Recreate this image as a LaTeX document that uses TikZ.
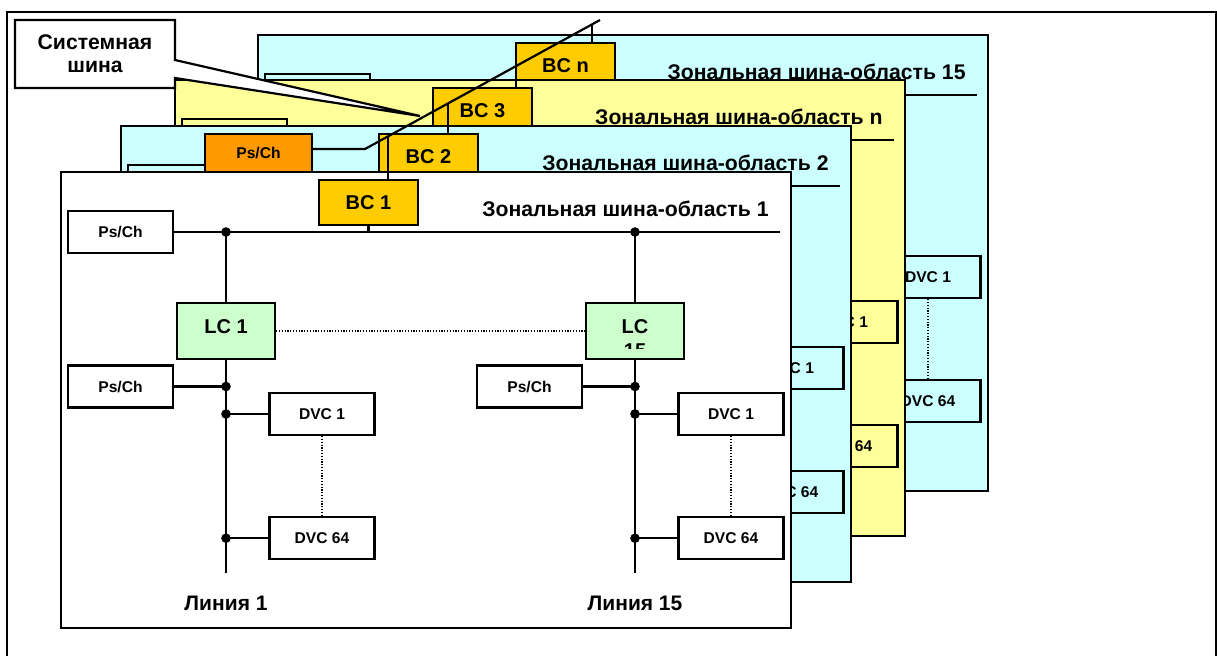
\documentclass[tikz,border=0pt]{standalone}
\usepackage{fontspec}
\setmainfont{Liberation Sans}
\usetikzlibrary{positioning, calc}
\definecolor{zcyan}{HTML}{CCFFFF}
\definecolor{zyellow}{HTML}{FFFF99}
\definecolor{bcgold}{HTML}{FFCC00}
\definecolor{psorange}{HTML}{FF9900}
\definecolor{lcgreen}{HTML}{CCFFCC}
\tikzset{
  zone/.style={draw=black, line width=1.1pt},
  dev/.style={draw=black, fill=white, line width=1.1pt, font=\fontsize{7.8}{9}\selectfont\bfseries,
              minimum width=52.5pt, minimum height=21pt, inner sep=0pt},
  bcbox/.style={draw=black, fill=bcgold, line width=1.1pt, font=\fontsize{10}{12}\selectfont\bfseries,
                minimum width=49.5pt, minimum height=22.5pt, inner sep=0pt},
  lcbox/.style={draw=black, fill=lcgreen, line width=1.1pt, font=\fontsize{10}{12}\selectfont\bfseries,
                minimum width=49pt, minimum height=28pt, inner sep=0pt, text height=7.2pt, text depth=5pt},
  lbl/.style={font=\fontsize{10.6}{12}\selectfont\bfseries, inner sep=0pt},
  wire/.style={line width=1.1pt, draw=black},
  link/.style={line width=0.7pt, dash pattern=on 0.6pt off 0.8pt},
  jdot/.style={fill=black},
  callout/.style={line width=1.1pt, draw=black},
}
% one zone bus area: id, dx, dy, fill, zone number, BC label
\newcommand{\zonelayer}[6]{%
  \begin{scope}[shift={(#2,#3)}]
    \draw[zone, fill=#4] (61,172) rectangle (791,628);
    \node[bcbox] (bc#1) at (368.5,202.5) {BC #6};
    \node[lbl, anchor=base east] (zl#1) at (769,216) {Зональная шина-область #5};
    \node[dev, fill=#4] (psa#1) at (120.5,232) {Ps/Ch};
    \coordinate (zbe#1) at (780,232);
    \draw[wire] (psa#1) -- (zbe#1);
    \draw[wire] (bc#1) -- (bc#1 |- zbe#1);
    \node[lcbox] (lcl#1) at (226,331) {LC 1};
    \node[lcbox] (lcr#1) at (635,331) {LC};
    \begin{scope}
      \clip (lcr#1.north west) rectangle ([yshift=-23.5pt]lcr#1.north east);
      \node[lbl, font=\fontsize{10}{12}\selectfont\bfseries, anchor=base] at ([yshift=-12.2pt]lcr#1.base) {15};
    \end{scope}
    \draw[link] (lcl#1) -- (lcr#1);
    \foreach \c/\sx/\cap in {l/0/1, r/409/15}{
      \begin{scope}[shift={(\sx,0)}]
        \coordinate (top\c#1) at (226,232);
        \coordinate (end\c#1) at (226,573);
        \node[dev, fill=#4] (psb\c#1) at (120.5,386.5) {Ps/Ch};
        \node[dev, fill=#4] (dva\c#1) at (322,414) {DVC 1};
        \node[dev, fill=#4, below=40pt of dva\c#1] (dvb\c#1) {DVC 64};
        \node[lbl, font=\fontsize{10.5}{12}\selectfont\bfseries, below=11.5pt of end\c#1] (cap\c#1) {Линия \cap};
      \end{scope}
      \coordinate (jp\c#1) at (end\c#1 |- psb\c#1);
      \coordinate (ja\c#1) at (end\c#1 |- dva\c#1);
      \coordinate (jb\c#1) at (end\c#1 |- dvb\c#1);
      \draw[wire] (top\c#1) -- (lc\c#1);
      \draw[wire] (lc\c#1) -- (end\c#1);
      \draw[wire] (psb\c#1) -- (jp\c#1);
      \draw[wire] (dva\c#1) -- (ja\c#1);
      \draw[wire] (dvb\c#1) -- (jb\c#1);
      \draw[link] (dva\c#1) -- (dvb\c#1);
      \foreach \j in {top,jp,ja,jb}
        \fill[jdot] (\j\c#1) circle (2.4pt);
    }
  \end{scope}}

\begin{document}
\begin{tikzpicture}[x=0.5pt, y=-0.5pt]
  \useasboundingbox (0,0) rectangle (1217,655);
  \draw[line width=0.8pt] (7,665) -- (7,12) -- (1216,12) -- (1216,665);
  % zone areas, back to front
  \zonelayer{d}{197}{-137}{zcyan}{15}{n}
  \zonelayer{c}{114}{-92}{zyellow}{n}{3}
  \zonelayer{b}{60}{-46}{zcyan}{2}{2}
  \node[dev, fill=psorange, minimum width=53.5pt, minimum height=19pt] (psys) at (258.5,153) {Ps/Ch};
  \zonelayer{a}{0}{0}{white}{1}{1}
  % system bus
  \coordinate (sbA) at (365,149);
  \coordinate (sbB) at (600,20);
  \draw[wire] (psys.east |- sbA) -- (sbA) -- (sbB);
  \foreach \id/\pos in {a/0.098, b/0.353, c/0.643, d/0.966}{
    \coordinate (tap\id) at ($(sbA)!\pos!(sbB)$);
    \draw[wire] (tap\id) -- (tap\id |- bc\id.north);
  }
  % callout
  \node[lbl, font=\fontsize{10.6}{11.5}\selectfont\bfseries, align=center, minimum width=80pt,
        minimum height=34pt, outer sep=0pt] (syscap) at (95,54) {Системная\\шина};
  \coordinate (ctip) at (420,116);
  \fill[white] ([yshift=-20pt]syscap.north east) -- (ctip) -- ([yshift=-29pt]syscap.north east) -- cycle;
  \draw[callout] (syscap.north west) -- (syscap.north east) -- ([yshift=-20pt]syscap.north east)
    -- (ctip) -- ([yshift=-29pt]syscap.north east) -- (syscap.south east) -- (syscap.south west) -- cycle;
\end{tikzpicture}
\end{document}
